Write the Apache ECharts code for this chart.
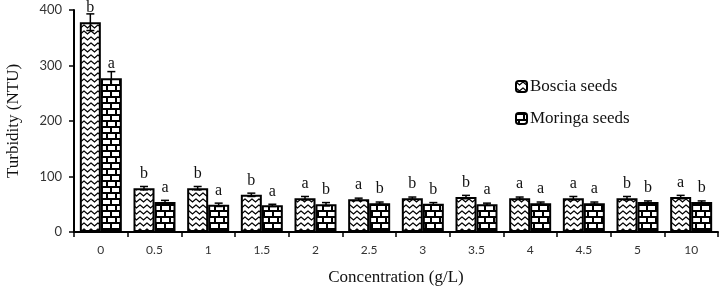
<!DOCTYPE html>
<html>
<head>
<meta charset="utf-8">
<script src="https://cdn.jsdelivr.net/npm/echarts@6/dist/echarts.min.js"></script>
<style>
  html, body { margin: 0; padding: 0; background: #fff; }
  #chart { width: 720px; height: 288px; }
</style>
</head>
<body>
<div id="chart"></div>
<script>
const concentrations = ["0", "0.5", "1", "1.5", "2", "2.5", "3", "3.5", "4", "4.5", "5", "10"];
const bosciaValues = [378, 79, 79, 67, 61, 59, 61, 63, 61, 61, 61, 63];
const moringaValues = [277, 54, 49, 48, 50, 52, 51, 50, 52, 52, 54, 54];
const bosciaErrors = [15, 3, 3, 3, 3, 2, 2, 3, 2, 3, 3, 3];
const moringaErrors = [12, 3, 3, 2, 3, 2, 2, 2, 2, 2, 2, 2];
const bosciaLetters = ["b", "b", "b", "b", "a", "a", "b", "b", "a", "a", "b", "a"];
const moringaLetters = ["a", "a", "a", "a", "b", "b", "b", "a", "a", "a", "b", "b"];

const serif = "'Liberation Serif', 'DejaVu Serif', serif";
const sans = "Lato, 'Open Sans', sans-serif";
const barW = 21;

// zigzag fill for Boscia
function zigzagPattern() {
  const c = document.createElement("canvas");
  c.width = 7; c.height = 6;
  const ctx = c.getContext("2d");
  ctx.fillStyle = "#fff";
  ctx.fillRect(0, 0, 7, 6);
  ctx.strokeStyle = "#000";
  ctx.lineWidth = 1.3;
  ctx.beginPath();
  ctx.moveTo(-1, 0.2);
  ctx.lineTo(0, 1);
  ctx.lineTo(3.5, 4);
  ctx.lineTo(7, 1);
  ctx.lineTo(8, 0.2);
  ctx.stroke();
  return c;
}

// brick fill for Moringa
function brickPattern() {
  const c = document.createElement("canvas");
  c.width = 9; c.height = 12;
  const ctx = c.getContext("2d");
  ctx.fillStyle = "#000";
  ctx.fillRect(0, 0, 9, 12);
  ctx.fillStyle = "#fff";
  ctx.fillRect(0, 2, 7, 4);
  ctx.fillRect(4, 8, 5, 4);
  ctx.fillRect(0, 8, 2, 4);
  return c;
}

const bosciaFill = { image: zigzagPattern(), repeat: "repeat" };
const moringaFill = { image: brickPattern(), repeat: "repeat" };

function errorSeries(values, errors, shift) {
  return {
    type: "custom",
    z: 5,
    silent: true,
    data: values.map((v, i) => [i, v, errors[i]]),
    renderItem(params, api) {
      const i = api.value(0);
      const v = api.value(1);
      const e = api.value(2);
      const hi = api.coord([i, v + e]);
      const lo = api.coord([i, v - e]);
      const x = hi[0] + shift;
      const style = { stroke: "#000", lineWidth: 1.5 };
      return {
        type: "group",
        children: [
          { type: "line", shape: { x1: x, y1: hi[1], x2: x, y2: lo[1] }, style },
          { type: "line", shape: { x1: x - 4, y1: hi[1], x2: x + 4, y2: hi[1] }, style },
          { type: "line", shape: { x1: x - 4, y1: lo[1], x2: x + 4, y2: lo[1] }, style }
        ]
      };
    }
  };
}

function letterLabel(letters) {
  return {
    show: true,
    position: "top",
    distance: 6,
    color: "#111",
    fontFamily: serif,
    fontSize: 16,
    formatter: (p) => letters[p.dataIndex]
  };
}

const chart = echarts.init(document.getElementById("chart"), null, { renderer: "canvas" });

chart.setOption({
  animation: false,
  backgroundColor: "#fff",
  grid: { left: 74, right: 2, top: 10, bottom: 56, outerBoundsMode: "none", containLabel: false },
  legend: {
    orient: "vertical",
    left: 510,
    top: 73,
    itemWidth: 11,
    itemHeight: 11,
    itemGap: 15,
    data: ["Boscia seeds", "Moringa seeds"],
    textStyle: { fontFamily: serif, fontSize: 17, color: "#111", padding: [0, 0, 0, -2] }
  },
  xAxis: {
    type: "category",
    data: concentrations,
    name: "Concentration (g/L)",
    nameLocation: "middle",
    nameGap: 37,
    nameTextStyle: { fontFamily: serif, fontSize: 17, color: "#111" },
    axisLine: { lineStyle: { color: "#000", width: 2 } },
    axisTick: { show: true, length: 5, lineStyle: { color: "#000", width: 1.5 } },
    axisLabel: { fontFamily: sans, fontSize: 12, color: "#333", margin: 12 }
  },
  yAxis: {
    type: "value",
    min: 0,
    max: 400,
    interval: 100,
    name: "Turbidity (NTU)",
    nameLocation: "middle",
    nameGap: 52,
    nameTextStyle: { fontFamily: serif, fontSize: 17, color: "#111" },
    splitLine: { show: false },
    axisLine: { show: true, lineStyle: { color: "#000", width: 2 } },
    axisTick: { show: true, length: 5, lineStyle: { color: "#000", width: 1.5 } },
    axisLabel: { fontFamily: sans, fontSize: 13, color: "#333", margin: 12 }
  },
  series: [
    {
      name: "Boscia seeds",
      type: "bar",
      data: bosciaValues,
      barWidth: barW,
      barGap: "0%",
      itemStyle: { color: bosciaFill, borderColor: "#000", borderWidth: 2 },
      label: letterLabel(bosciaLetters)
    },
    {
      name: "Moringa seeds",
      type: "bar",
      data: moringaValues,
      barWidth: barW,
      barGap: "0%",
      itemStyle: { color: moringaFill, borderColor: "#000", borderWidth: 2 },
      label: letterLabel(moringaLetters)
    },
    errorSeries(bosciaValues, bosciaErrors, -barW / 2),
    errorSeries(moringaValues, moringaErrors, barW / 2)
  ]
});
</script>
</body>
</html>
